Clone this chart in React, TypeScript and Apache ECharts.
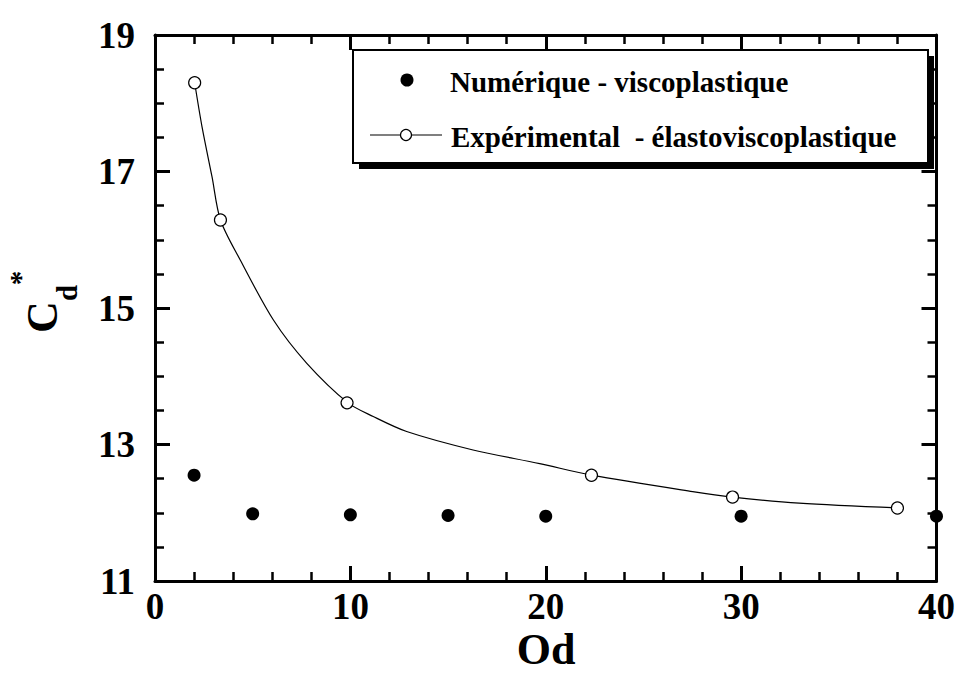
import React, { useEffect, useRef } from "react";
import * as echarts from "echarts";

// Numerical (viscoplastic) results: [Od, Cd*]
const numericalData: number[][] = [
  [2, 12.55],
  [5, 11.985],
  [10, 11.97],
  [15, 11.96],
  [20, 11.95],
  [30, 11.95],
  [40, 11.95],
];

// Experimental (elasto-viscoplastic) results: [Od, Cd*]
const experimentalData: number[][] = [
  [2.03, 18.3],
  [3.35, 16.29],
  [9.83, 13.61],
  [22.34, 12.55],
  [29.56, 12.23],
  [38.0, 12.07],
];

const fitCurve: number[][] = [
  [2.03, 18.3],
  [2.41, 17.65],
  [2.92, 16.92],
  [3.35, 16.29],
  [4.37, 15.7],
  [6.07, 14.82],
  [7.77, 14.19],
  [9.88, 13.61],
  [11.17, 13.41],
  [12.88, 13.19],
  [16.28, 12.92],
  [19.69, 12.72],
  [22.34, 12.55],
  [27.52, 12.31],
  [29.56, 12.23],
  [32.97, 12.14],
  [38.01, 12.07],
];

const xRange = [0, 40];
const yRange = [11, 19];
const xTitle = "Od";
const legendNames = ["Numérique - viscoplastique", "Expérimental  - élastoviscoplastique"];

const FONT = '"Liberation Serif", "Times New Roman", serif';

export default function App() {
  const ref = useRef<HTMLDivElement>(null);
  useEffect(() => {
    if (!ref.current) return;
    const chart = echarts.init(ref.current, undefined, { renderer: "svg" });
    const tickCommon = {
      axisLine: { show: true, onZero: false, lineStyle: { color: "#000", width: 3 } },
      axisTick: { show: true, inside: true, length: 15, lineStyle: { color: "#000", width: 3 } },
      minorTick: { show: true, length: 9, lineStyle: { color: "#000", width: 2.5 } },
      splitLine: { show: false },
    };
    const labelStyle = {
      color: "#000",
      fontFamily: FONT,
      fontWeight: "bold" as const,
      fontSize: 37,
    };
    chart.setOption({
      animation: false,
      backgroundColor: "#fff",
      grid: { left: 155, right: 20, top: 35, bottom: 92, containLabel: false },
      xAxis: [
        {
          type: "value",
          position: "bottom",
          min: xRange[0],
          max: xRange[1],
          interval: 10,
          ...tickCommon,
          minorTick: { ...tickCommon.minorTick, splitNumber: 5 },
          axisLabel: { ...labelStyle, margin: 7 },
        },
        {
          type: "value",
          position: "top",
          min: xRange[0],
          max: xRange[1],
          interval: 10,
          ...tickCommon,
          minorTick: { ...tickCommon.minorTick, splitNumber: 5 },
          axisLabel: { show: false },
        },
      ],
      yAxis: [
        {
          type: "value",
          position: "left",
          min: yRange[0],
          max: yRange[1],
          interval: 2,
          ...tickCommon,
          minorTick: { ...tickCommon.minorTick, splitNumber: 4 },
          axisLabel: { ...labelStyle, margin: 20 },
        },
        {
          type: "value",
          position: "right",
          min: yRange[0],
          max: yRange[1],
          interval: 2,
          ...tickCommon,
          minorTick: { ...tickCommon.minorTick, splitNumber: 4 },
          axisLabel: { show: false },
        },
      ],
      series: [
        {
          name: "fit",
          type: "line",
          data: fitCurve,
          smooth: 0.3,
          showSymbol: false,
          symbol: "none",
          lineStyle: { color: "#000", width: 1.2, opacity: 1 },
          z: 2,
        },
        {
          name: legendNames[1],
          type: "scatter",
          data: experimentalData,
          symbol: "circle",
          symbolSize: 12,
          clip: false,
          itemStyle: { color: "#fff", borderColor: "#000", borderWidth: 1.2, opacity: 1 },
          z: 3,
        },
        {
          name: legendNames[0],
          type: "scatter",
          data: numericalData,
          symbol: "circle",
          symbolSize: 13,
          clip: false,
          itemStyle: { color: "#000", opacity: 1 },
          z: 4,
        },
      ],
      graphic: [
        // legend shadow and box
        { type: "rect", z: 100, shape: { x: 359, y: 56, width: 575, height: 113 }, style: { fill: "#000" } },
        {
          type: "rect",
          z: 101,
          shape: { x: 353, y: 50, width: 575, height: 113 },
          style: { fill: "#fff", stroke: "#000", lineWidth: 2 },
        },
        { type: "circle", z: 102, shape: { cx: 407, cy: 80, r: 6.5 }, style: { fill: "#000" } },
        {
          type: "line",
          z: 102,
          shape: { x1: 370, y1: 135, x2: 442, y2: 135 },
          style: { stroke: "#000", lineWidth: 1.2 },
        },
        {
          type: "circle",
          z: 103,
          shape: { cx: 406, cy: 135, r: 5.5 },
          style: { fill: "#fff", stroke: "#000", lineWidth: 1.2 },
        },
        {
          type: "text",
          z: 102,
          x: 450,
          y: 82,
          style: {
            text: legendNames[0],
            font: `bold 29px ${FONT}`,
            fill: "#000",
            align: "left",
            verticalAlign: "middle",
            textAlign: "left",
            textVerticalAlign: "middle",
          },
        },
        {
          type: "text",
          z: 102,
          x: 451,
          y: 137,
          style: {
            text: legendNames[1],
            font: `bold 29px ${FONT}`,
            fill: "#000",
            align: "left",
            verticalAlign: "middle",
            textAlign: "left",
            textVerticalAlign: "middle",
          },
        },
        // x axis title
        {
          type: "text",
          x: 546,
          y: 649,
          style: {
            text: xTitle,
            font: `bold 44px ${FONT}`,
            fill: "#000",
            align: "center",
            verticalAlign: "middle",
            textAlign: "center",
            textVerticalAlign: "middle",
          },
        },
        // y axis title C_d^*
        {
          type: "text",
          x: 42,
          y: 317,
          rotation: Math.PI / 2,
          style: {
            text: "C",
            font: `bold 44px ${FONT}`,
            fill: "#000",
            align: "center",
            verticalAlign: "middle",
            textAlign: "center",
            textVerticalAlign: "middle",
          },
        },
        {
          type: "text",
          x: 67,
          y: 293,
          rotation: Math.PI / 2,
          style: {
            text: "d",
            font: `bold 29px ${FONT}`,
            fill: "#000",
            align: "center",
            verticalAlign: "middle",
            textAlign: "center",
            textVerticalAlign: "middle",
          },
        },
        {
          type: "text",
          x: 20,
          y: 278,
          rotation: Math.PI / 2,
          style: {
            text: "*",
            font: `bold 29px ${FONT}`,
            fill: "#000",
            align: "center",
            verticalAlign: "middle",
            textAlign: "center",
            textVerticalAlign: "middle",
          },
        },
      ],
    });
    return () => chart.dispose();
  }, []);
  return (
    <div
      ref={ref}
      style={{ position: "fixed", left: 0, top: 0, width: 958, height: 673, background: "#fff" }}
    />
  );
}
